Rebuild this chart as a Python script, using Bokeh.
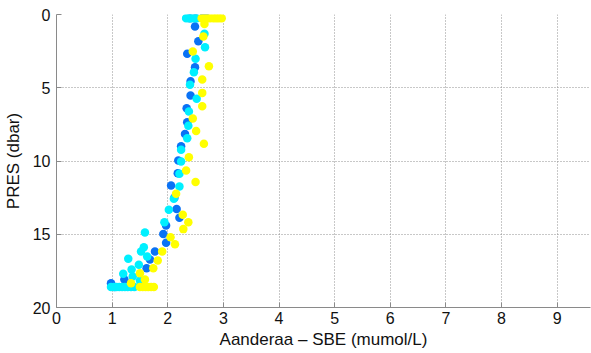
from bokeh.plotting import figure
from bokeh.models import Range1d, FixedTicker
from bokeh.embed import file_html
from bokeh.resources import INLINE

# Oxygen difference profiles (Aanderaa minus SBE) against pressure
cast1_pres = [0.0, 0.25, 0.25, 0.82, 1.82, 2.68, 3.6, 4.55, 5.53, 6.4, 7.35, 8.15, 9.0,
              9.97, 10.83, 11.67, 12.5, 13.27, 13.88, 14.4, 14.98, 15.58, 16.18, 16.72,
              17.32, 18.09, 18.35, 18.6]
cast1_diff = [2.66, 2.4, 2.5, 2.49, 2.55, 2.35, 2.49, 2.41, 2.41, 2.34, 2.35, 2.31, 2.24,
              2.19, 2.18, 2.06, 2.12, 2.16, 2.21, 1.97, 1.92, 1.97, 1.77, 1.68,
              1.62, 1.22, 0.98, 1.05]

cast2_pres = [0.25, 0.25, 0.25, 0.25, 0.25, 1.32, 2.23, 3.02, 3.94, 4.8, 5.75, 6.62, 7.6,
              8.44, 9.24, 10.03, 10.87, 11.74, 12.58, 13.33, 14.18, 14.88, 15.88, 16.18,
              16.52, 16.68, 17.09, 17.41, 17.7, 17.89, 18.16,
              18.6, 18.6, 18.6, 18.6, 18.6, 18.6, 18.6, 18.6, 18.6]
cast2_diff = [2.33, 2.38, 2.43, 2.48, 2.52, 2.66, 2.67, 2.5, 2.47, 2.4, 2.52, 2.38, 2.37,
              2.35, 2.24, 2.24, 2.21, 2.21, 2.11, 2.02, 1.94, 1.59, 1.57, 1.52,
              1.63, 1.29, 1.48, 1.35, 1.2, 1.37, 1.5,
              0.98, 1.03, 1.08, 1.13, 1.18, 1.23, 1.28, 1.34, 1.40]

cast3_pres = [0.25, 0.25, 0.25, 0.25, 0.25, 0.25, 0.25, 0.25, 0.64, 1.5, 2.53, 3.53, 4.44,
              5.35, 6.26, 7.1, 7.96, 8.83, 9.74, 10.65, 11.44, 12.24, 13.67, 14.18,
              14.65, 15.2, 15.68, 16.18, 16.79, 17.32, 17.66, 18.09, 18.34,
              18.6, 18.6, 18.6, 18.6, 18.6, 18.6]
cast3_diff = [2.61, 2.66, 2.71, 2.76, 2.82, 2.87, 2.92, 2.97, 2.66, 2.64, 2.45, 2.74, 2.62,
              2.62, 2.62, 2.45, 2.51, 2.65, 2.38, 2.33, 2.5, 2.15, 2.27, 2.37,
              2.28, 2.05, 2.13, 1.9, 1.82, 1.74, 1.5, 1.59, 1.34,
              1.5, 1.55, 1.6, 1.65, 1.7, 1.75]

x_ticks = [0, 1, 2, 3, 4, 5, 6, 7, 8, 9]
y_ticks = [0, 5, 10, 15, 20]

p = figure(width=591, height=353, output_backend="svg", toolbar_location=None,
           x_range=Range1d(0, 9.6), y_range=Range1d(20, 0),
           min_border_left=53, min_border_right=1, min_border_top=14, min_border_bottom=46)
p.outline_line_color = None
p.background_fill_color = "white"
p.border_fill_color = "white"

for ax in (p.xaxis[0], p.yaxis[0]):
    ax.axis_line_color = "#8a8a8a"
    ax.major_tick_line_color = "#8a8a8a"
    ax.major_tick_in = 5
    ax.major_tick_out = 0
    ax.minor_tick_line_color = None
    ax.major_label_text_font = "Liberation Sans"
    ax.major_label_text_font_size = "16px"
    ax.major_label_text_color = "#111111"
    ax.axis_label_text_font = "Liberation Sans"
    ax.axis_label_text_font_size = "17px"
    ax.axis_label_text_font_style = "normal"
    ax.axis_label_text_color = "#111111"

p.xaxis.ticker = FixedTicker(ticks=x_ticks)
p.yaxis.ticker = FixedTicker(ticks=y_ticks)
p.xaxis.axis_label = "Aanderaa \u2013 SBE (mumol/L)"
p.yaxis.axis_label = "PRES (dbar)"
p.xaxis.major_label_standoff = 4
p.yaxis.major_label_standoff = 6
p.xaxis.axis_label_standoff = 3
p.yaxis.axis_label_standoff = 7

for g in (p.xgrid[0], p.ygrid[0]):
    g.grid_line_color = "#909090"
    g.grid_line_dash = "1 2"
    g.grid_line_width = 1

p.scatter(cast1_diff, cast1_pres, size=8.5, color="#0a72f5", line_color=None)
p.scatter(cast2_diff, cast2_pres, size=8.5, color="#00f0ff", line_color=None)
p.scatter(cast3_diff, cast3_pres, size=8.5, color="#ffff00", line_color=None)

open("out.html", "w").write(file_html(p, INLINE))
